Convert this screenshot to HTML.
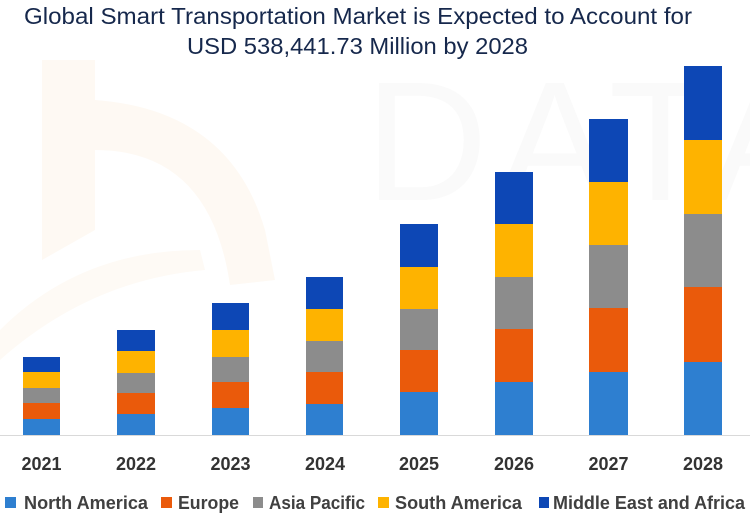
<!DOCTYPE html>
<html>
<head>
<meta charset="utf-8">
<style>
  html,body{margin:0;padding:0;background:#fff;}
  body{width:750px;height:518px;overflow:hidden;}
  svg{display:block;}
</style>
</head>
<body>
<svg width="750" height="518" viewBox="0 0 750 518" xmlns="http://www.w3.org/2000/svg">
  <rect width="750" height="518" fill="#ffffff"/>
  <!-- faint watermark -->
  <g>
    <path d="M42 60 L95 60 L95 100 Q230 110 265 230 L275 280 L230 285 Q210 150 95 150 L95 230 L42 260 Z" fill="#fef9f3"/>
    <path d="M0 330 Q80 250 200 250 L205 270 Q90 280 0 360 Z" fill="#fefaf5"/>
    <text x="365" y="200" font-family="Liberation Sans, sans-serif" font-size="170" font-weight="normal" fill="#fafafa" letter-spacing="10">DATAB</text>
  </g>

  <!-- title -->
  <text x="24" y="24" font-family="Liberation Sans, sans-serif" font-size="23" fill="#16284c" textLength="668" lengthAdjust="spacingAndGlyphs">Global Smart Transportation Market is Expected to Account for</text>
  <text x="187" y="54" font-family="Liberation Sans, sans-serif" font-size="23" fill="#16284c" textLength="341" lengthAdjust="spacingAndGlyphs">USD 538,441.73 Million by 2028</text>

  <!-- baseline -->
  <line x1="0" y1="435.5" x2="750" y2="435.5" stroke="#d9d9d9" stroke-width="1"/>

  <!-- 2021 -->
  <g>
    <rect x="23" y="419" width="37" height="16" fill="#2e7fd0"/>
    <rect x="23" y="403" width="37" height="16" fill="#ea5a0b"/>
    <rect x="23" y="388" width="37" height="15" fill="#8c8c8c"/>
    <rect x="23" y="372" width="37" height="16" fill="#feb300"/>
    <rect x="23" y="357" width="37" height="15" fill="#0d47b5"/>
  </g>
  <!-- 2022 -->
  <g>
    <rect x="117" y="414" width="38" height="21" fill="#2e7fd0"/>
    <rect x="117" y="393" width="38" height="21" fill="#ea5a0b"/>
    <rect x="117" y="373" width="38" height="20" fill="#8c8c8c"/>
    <rect x="117" y="351" width="38" height="22" fill="#feb300"/>
    <rect x="117" y="330" width="38" height="21" fill="#0d47b5"/>
  </g>
  <!-- 2023 -->
  <g>
    <rect x="212" y="408" width="37" height="27" fill="#2e7fd0"/>
    <rect x="212" y="382" width="37" height="26" fill="#ea5a0b"/>
    <rect x="212" y="357" width="37" height="25" fill="#8c8c8c"/>
    <rect x="212" y="330" width="37" height="27" fill="#feb300"/>
    <rect x="212" y="303" width="37" height="27" fill="#0d47b5"/>
  </g>
  <!-- 2024 -->
  <g>
    <rect x="306" y="404" width="37" height="31" fill="#2e7fd0"/>
    <rect x="306" y="372" width="37" height="32" fill="#ea5a0b"/>
    <rect x="306" y="341" width="37" height="31" fill="#8c8c8c"/>
    <rect x="306" y="309" width="37" height="32" fill="#feb300"/>
    <rect x="306" y="277" width="37" height="32" fill="#0d47b5"/>
  </g>
  <!-- 2025 -->
  <g>
    <rect x="400" y="392" width="38" height="43" fill="#2e7fd0"/>
    <rect x="400" y="350" width="38" height="42" fill="#ea5a0b"/>
    <rect x="400" y="309" width="38" height="41" fill="#8c8c8c"/>
    <rect x="400" y="267" width="38" height="42" fill="#feb300"/>
    <rect x="400" y="224" width="38" height="43" fill="#0d47b5"/>
  </g>
  <!-- 2026 -->
  <g>
    <rect x="495" y="382" width="38" height="53" fill="#2e7fd0"/>
    <rect x="495" y="329" width="38" height="53" fill="#ea5a0b"/>
    <rect x="495" y="277" width="38" height="52" fill="#8c8c8c"/>
    <rect x="495" y="224" width="38" height="53" fill="#feb300"/>
    <rect x="495" y="172" width="38" height="52" fill="#0d47b5"/>
  </g>
  <!-- 2027 -->
  <g>
    <rect x="589" y="372" width="39" height="63" fill="#2e7fd0"/>
    <rect x="589" y="308" width="39" height="64" fill="#ea5a0b"/>
    <rect x="589" y="245" width="39" height="63" fill="#8c8c8c"/>
    <rect x="589" y="182" width="39" height="63" fill="#feb300"/>
    <rect x="589" y="119" width="39" height="63" fill="#0d47b5"/>
  </g>
  <!-- 2028 -->
  <g>
    <rect x="684" y="362" width="38" height="73" fill="#2e7fd0"/>
    <rect x="684" y="287" width="38" height="75" fill="#ea5a0b"/>
    <rect x="684" y="214" width="38" height="73" fill="#8c8c8c"/>
    <rect x="684" y="140" width="38" height="74" fill="#feb300"/>
    <rect x="684" y="66" width="38" height="74" fill="#0d47b5"/>
  </g>

  <!-- year labels -->
  <g font-family="Liberation Sans, sans-serif" font-size="18" font-weight="bold" fill="#333333" text-anchor="middle">
    <text x="41.5" y="470">2021</text>
    <text x="136" y="470">2022</text>
    <text x="230.5" y="470">2023</text>
    <text x="325" y="470">2024</text>
    <text x="419" y="470">2025</text>
    <text x="514" y="470">2026</text>
    <text x="608.5" y="470">2027</text>
    <text x="703" y="470">2028</text>
  </g>

  <!-- legend -->
  <g font-family="Liberation Sans, sans-serif" font-size="18" font-weight="bold" fill="#404040">
    <rect x="5" y="497" width="11" height="11" fill="#2e7fd0"/>
    <text x="24" y="509" textLength="124" lengthAdjust="spacingAndGlyphs">North America</text>
    <rect x="161" y="497" width="11" height="11" fill="#ea5a0b"/>
    <text x="178" y="509" textLength="61" lengthAdjust="spacingAndGlyphs">Europe</text>
    <rect x="253" y="497" width="10" height="11" fill="#8c8c8c"/>
    <text x="269" y="509" textLength="96" lengthAdjust="spacingAndGlyphs">Asia Pacific</text>
    <rect x="378" y="497" width="11" height="11" fill="#feb300"/>
    <text x="395" y="509" textLength="127" lengthAdjust="spacingAndGlyphs">South America</text>
    <rect x="539" y="497" width="10" height="11" fill="#0d47b5"/>
    <text x="553" y="509" textLength="192" lengthAdjust="spacingAndGlyphs">Middle East and Africa</text>
  </g>
</svg>
</body>
</html>
